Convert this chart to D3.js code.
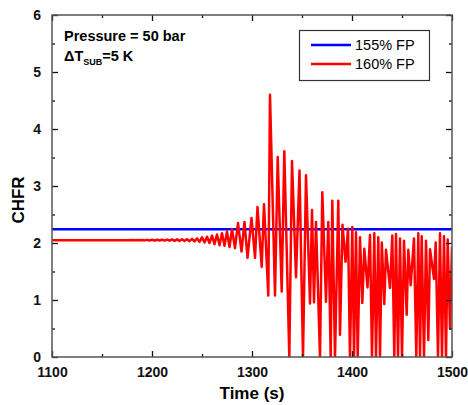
<!DOCTYPE html>
<html>
<head>
<meta charset="utf-8">
<script src="https://cdn.jsdelivr.net/npm/d3@7"></script>
<style>
  body { margin: 0; background: #fff; }
  text { font-family: "Liberation Sans", Arial, sans-serif; }
</style>
</head>
<body>
<script>
// x ticks / y ticks
const xTickVals = [1100, 1200, 1300, 1400, 1500];
const yTickVals = [0, 1, 2, 3, 4, 5, 6];

// 155% FP - flat line
const time155 = [1100, 1500];
const chfr155 = [2.24, 2.24];

// 160% FP (turning points)
const time160 = [
  1100, 1175, 1180, 1182.5, 1185, 1187.5, 1190, 1192.5, 1195, 1197.5,
  1200, 1202.5, 1205, 1207.5, 1210, 1212.5, 1215, 1217.5, 1220, 1222.5,
  1225, 1227.5, 1230, 1232.5, 1235, 1237.5, 1240, 1242.5, 1245, 1247.5,
  1250, 1252.5, 1255, 1257.5, 1260, 1262.5, 1265, 1267.5, 1270, 1272.5,
  1275, 1277.5, 1280, 1283, 1286, 1289.5, 1292.5, 1295.5, 1299.5, 1303,
  1305.5, 1309.7, 1312, 1316.3, 1318, 1323, 1325.7, 1329.7, 1332.3, 1337.3,
  1340, 1344, 1347.5, 1351, 1354, 1358, 1360, 1362, 1364, 1368,
  1370.3, 1374, 1376.3, 1378.7, 1380.3, 1383, 1386.3, 1388, 1390.5, 1393.5,
  1396, 1398, 1400.3, 1402, 1404, 1405.7, 1408, 1410.3, 1412.3, 1415.5,
  1418, 1420, 1422.3, 1424, 1426.3, 1428, 1429.8, 1432.3, 1434, 1438,
  1440.3, 1442.3, 1444, 1446, 1448, 1450, 1452, 1454.7, 1456.3, 1458.7,
  1462, 1464.3, 1466.3, 1468, 1469.7, 1472, 1474, 1476.3, 1478, 1482,
  1483.7, 1486, 1488, 1490, 1492, 1494, 1495.7, 1498, 1500
];
const chfr160 = [
  2.05, 2.05, 2.052, 2.048, 2.053, 2.047, 2.054, 2.046, 2.055, 2.045,
  2.056, 2.044, 2.057, 2.043, 2.058, 2.042, 2.06, 2.04, 2.062, 2.038,
  2.064, 2.036, 2.066, 2.034, 2.068, 2.032, 2.072, 2.028, 2.08, 2.02,
  2.10, 2.01, 2.11, 2.0, 2.13, 1.98, 2.15, 1.96, 2.17, 1.95,
  2.20, 1.93, 2.24, 1.91, 2.35, 1.85, 2.37, 1.74, 2.44, 1.74,
  2.63, 1.58, 2.68, 1.08, 4.60, 1.08, 3.51, 1.15, 3.61, 0,
  3.44, 1.40, 3.27, 0, 3.19, 0.94, 2.58, 0.96, 2.37, 0,
  2.89, 0.97, 2.37, 0, 2.74, 0, 2.74, 0.39, 2.32, 1.67,
  2.25, 0, 2.28, 0, 2.19, 0, 2.10, 0.95, 1.90, 1.22,
  2.14, 0, 2.17, 0, 2.10, 0, 2.01, 0.93, 1.88, 1.21,
  2.13, 0, 2.16, 0, 2.08, 0, 2.04, 0.74, 1.88, 1.26,
  2.08, 0, 2.17, 0, 2.12, 0, 2.04, 0.3, 1.89, 1.37,
  2.01, 0, 2.17, 0, 2.12, 0, 2.06, 0.5, 1.94
];

const legendNames = ["155% FP", "160% FP"];
const colors = ["#0000ff", "#ff0000"];

const w = 468, h = 405;
const mLeft = 52, mRight = 452, mTop = 15, mBottom = 357;

const svg = d3.select("body").append("svg")
  .attr("width", w).attr("height", h);

const x = d3.scaleLinear().domain([1100, 1500]).range([mLeft, mRight]);
const y = d3.scaleLinear().domain([0, 6]).range([mBottom, mTop]);

svg.append("clipPath").attr("id", "clip")
  .append("rect").attr("x", mLeft).attr("y", mTop - 2)
  .attr("width", mRight - mLeft).attr("height", mBottom - mTop + 2);

const line = d3.line().x(d => x(d[0])).y(d => y(d[1]));

svg.append("path")
  .datum(time155.map((t, i) => [t, chfr155[i]]))
  .attr("d", line).attr("fill", "none")
  .attr("stroke", colors[0]).attr("stroke-width", 2.5)
  .attr("clip-path", "url(#clip)");

svg.append("path")
  .datum(time160.map((t, i) => [t, chfr160[i]]))
  .attr("d", line).attr("fill", "none")
  .attr("stroke", colors[1]).attr("stroke-width", 2.5)
  .attr("stroke-linejoin", "round")
  .attr("clip-path", "url(#clip)");

// axes: ticks point inward on all four sides
const fmt = d3.format("d");
const minorX = [1150, 1250, 1350, 1450];
const minorY = [0.5, 1.5, 2.5, 3.5, 4.5, 5.5];
const axB = svg.append("g").attr("transform", `translate(0,${mBottom})`)
  .call(d3.axisBottom(x).tickValues(xTickVals).tickSizeInner(-6).tickSizeOuter(0).tickPadding(10).tickFormat(fmt));
const axBm = svg.append("g").attr("transform", `translate(0,${mBottom})`)
  .call(d3.axisBottom(x).tickValues(minorX).tickSizeInner(-3).tickSizeOuter(0).tickFormat(""));
const axT = svg.append("g").attr("transform", `translate(0,${mTop})`)
  .call(d3.axisTop(x).tickValues(xTickVals).tickSizeInner(-6).tickSizeOuter(0).tickFormat(""));
const axTm = svg.append("g").attr("transform", `translate(0,${mTop})`)
  .call(d3.axisTop(x).tickValues(minorX).tickSizeInner(-3).tickSizeOuter(0).tickFormat(""));
const axL = svg.append("g").attr("transform", `translate(${mLeft},0)`)
  .call(d3.axisLeft(y).tickValues(yTickVals).tickSizeInner(-6).tickSizeOuter(0).tickPadding(11).tickFormat(fmt));
const axLm = svg.append("g").attr("transform", `translate(${mLeft},0)`)
  .call(d3.axisLeft(y).tickValues(minorY).tickSizeInner(-3).tickSizeOuter(0).tickFormat(""));
const axR = svg.append("g").attr("transform", `translate(${mRight},0)`)
  .call(d3.axisRight(y).tickValues(yTickVals).tickSizeInner(-6).tickSizeOuter(0).tickFormat(""));
const axRm = svg.append("g").attr("transform", `translate(${mRight},0)`)
  .call(d3.axisRight(y).tickValues(minorY).tickSizeInner(-3).tickSizeOuter(0).tickFormat(""));

[axB, axBm, axT, axTm, axL, axLm, axR, axRm].forEach(g => {
  g.select(".domain").remove();
  g.selectAll("line").attr("stroke", "#111").attr("stroke-width", 1.3);
  g.selectAll("text").attr("font-size", 14).attr("font-weight", "bold")
    .attr("fill", "#111").attr("font-family", "Liberation Sans, Arial, sans-serif");
});

// frame
svg.append("rect").attr("x", mLeft).attr("y", mTop)
  .attr("width", mRight - mLeft).attr("height", mBottom - mTop)
  .attr("fill", "none").attr("stroke", "#555").attr("stroke-width", 1.5);

// axis titles
svg.append("text").attr("x", (mLeft + mRight) / 2).attr("y", 399)
  .attr("text-anchor", "middle").attr("font-size", 17).attr("font-weight", "bold")
  .text("Time (s)");
svg.append("text").attr("transform", "translate(24,200) rotate(-90)")
  .attr("text-anchor", "middle").attr("font-size", 17).attr("font-weight", "bold")
  .text("CHFR");

// annotation
svg.append("text").attr("x", 64).attr("y", 41)
  .attr("font-size", 14.5).attr("font-weight", "bold")
  .text("Pressure = 50 bar");
const t2 = svg.append("text").attr("x", 64).attr("y", 61)
  .attr("font-size", 14.5).attr("font-weight", "bold");
t2.append("tspan").text("\u0394T");
t2.append("tspan").attr("font-size", 9).attr("dy", 4).text("SUB");
t2.append("tspan").attr("dy", -4).text("=5 K");

// legend
const lg = svg.append("g");
lg.append("rect").attr("x", 299.5).attr("y", 30.5).attr("width", 130).attr("height", 50)
  .attr("fill", "#fff").attr("stroke", "#333").attr("stroke-width", 1.2);
legendNames.forEach((name, i) => {
  const yy = 45 + i * 19;
  lg.append("line").attr("x1", 311).attr("x2", 351).attr("y1", yy).attr("y2", yy)
    .attr("stroke", colors[i]).attr("stroke-width", 2.5);
  lg.append("text").attr("x", 355).attr("y", yy + 5)
    .attr("font-size", 14.5).text(name);
});
</script>
</body>
</html>
